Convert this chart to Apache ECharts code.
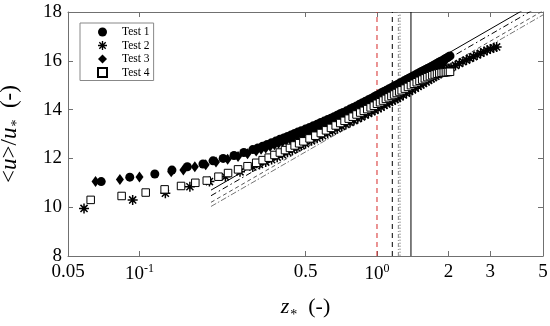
<!DOCTYPE html>
<html><head><meta charset="utf-8">
<script src="https://cdn.jsdelivr.net/npm/echarts@6/dist/echarts.min.js"></script>
<style>html,body{margin:0;padding:0;background:#fff}#c{width:550px;height:326px}</style>
</head><body><div id="c"></div>
<script>
const seriesNames = ['Test 1', 'Test 2', 'Test 3', 'Test 4'];

// Test 1 (filled circles)
const z1 = [0.069,0.091,0.116,0.137,0.159,0.185,0.204,0.225,0.25,0.275,
  0.30,0.315,0.33,0.345,0.36,0.375,0.39,0.405,0.42,0.435,0.45,0.465,0.48,
  0.50,0.52,0.54,0.56,0.58,0.60,0.62,0.64,0.66,0.68,0.70,0.72,
  0.745,0.77,0.795,0.82,0.845,0.87,0.895,0.92,0.945,0.97,0.995,1.02,1.045,1.07,1.095,1.12,1.145,1.17,1.195,1.22,1.245,1.27,
  1.30,1.33,1.36,1.39,1.42,1.45,1.48,1.51,1.54,1.57,1.60,1.63,1.66,1.69,1.72,1.75,1.78,1.81,1.84,1.87,1.90,1.93,
  1.955,1.98,2.005,2.03];
const u1 = [11.05,11.23,11.36,11.52,11.66,11.77,11.9,12.0,12.12,12.24,
  12.36,12.43,12.5,12.57,12.64,12.71,12.78,12.84,12.9,12.96,13.02,13.08,13.13,
  13.2,13.27,13.34,13.4,13.47,13.53,13.59,13.65,13.71,13.77,13.83,13.88,
  13.95,14.02,14.09,14.15,14.22,14.28,14.34,14.4,14.46,14.52,14.58,14.63,14.69,14.74,14.79,14.84,14.89,14.94,14.99,15.03,15.08,15.12,
  15.18,15.23,15.28,15.33,15.38,15.42,15.47,15.51,15.56,15.6,15.64,15.68,15.72,15.76,15.8,15.84,15.88,15.92,15.96,15.99,16.03,16.07,
  16.1,16.13,16.17,16.2];

// Test 2 (asterisks)
const z2 = [0.0584,0.0936,0.1285,0.163,0.197,0.23,0.265,
  0.30,0.32,0.34,0.36,0.38,0.40,0.42,0.44,0.46,0.48,
  0.50,0.53,0.56,0.59,0.62,0.65,0.68,0.71,0.74,
  0.77,0.80,0.83,0.86,0.89,0.92,0.95,0.98,1.01,1.04,1.07,1.10,1.13,1.16,1.19,1.22,1.25,
  1.29,1.33,1.37,1.41,1.45,1.49,1.53,1.57,1.61,1.65,1.69,1.73,1.77,1.81,1.85,1.89,1.93,1.97,2.01,2.05,
  2.14,2.22,2.30,2.38,2.46,2.55,2.64,2.73,2.82,2.91,3.0,3.1,3.19];
const u2 = [9.95,10.3,10.57,10.84,11.05,11.25,11.45,
  11.65,11.75,11.85,11.95,12.05,12.15,12.25,12.34,12.43,12.52,
  12.6,12.72,12.83,12.93,13.03,13.13,13.22,13.31,13.39,
  13.47,13.55,13.63,13.7,13.78,13.84,13.91,13.97,14.04,14.1,14.17,14.23,14.29,14.35,14.41,14.47,14.52,
  14.6,14.67,14.74,14.81,14.88,14.95,15.01,15.07,15.13,15.2,15.26,15.32,15.37,15.43,15.49,15.54,15.59,15.63,15.68,15.72,
  15.81,15.89,15.96,16.03,16.1,16.17,16.24,16.31,16.37,16.43,16.48,16.53,16.57];

// Test 3 (filled diamonds)
const z3 = [0.0653,0.0827,0.1,0.136,0.153,0.171,0.19,0.21,0.235,0.26,0.285,
  0.31,0.325,0.34,0.355,0.37,0.385,0.40,0.415,0.43,0.445,0.46,0.475,0.49,
  0.51,0.53,0.55,0.57,0.59,0.61,0.63,0.65,0.67,0.69,0.71,0.73,
  0.755,0.78,0.805,0.83,0.855,0.88,0.905,0.93,0.955,0.98,1.005,1.03,1.055,1.08,1.105,1.13,1.155,1.18,1.205,1.23,1.255,
  1.285,1.315,1.345,1.375,1.405,1.435,1.465,1.495,1.525,1.555,1.585,1.615,1.645,1.675,1.705,1.735,1.765,1.795,1.825,1.855,1.885,
  1.91];
const u3 = [11.05,11.14,11.24,11.45,11.52,11.66,11.74,11.85,11.97,12.08,12.19,
  12.3,12.37,12.43,12.5,12.56,12.62,12.68,12.74,12.8,12.86,12.91,12.96,13.01,
  13.08,13.15,13.22,13.29,13.35,13.42,13.48,13.54,13.6,13.66,13.72,13.78,
  13.84,13.91,13.98,14.04,14.11,14.17,14.23,14.29,14.35,14.41,14.46,14.51,14.56,14.61,14.66,14.71,14.76,14.8,14.85,14.89,14.94,
  14.99,15.04,15.09,15.14,15.19,15.24,15.28,15.33,15.37,15.42,15.46,15.5,15.54,15.58,15.62,15.66,15.7,15.74,15.78,15.82,15.86,
  15.9];

// Test 4 (open squares)
const z4 = [0.0623,0.0841,0.1062,0.1276,0.1496,0.1718,0.192,0.215,0.236,0.26,0.285,
  0.31,0.33,0.35,0.37,0.39,0.41,0.43,0.45,0.47,0.49,
  0.52,0.55,0.58,0.61,0.64,0.67,0.70,0.73,0.76,
  0.79,0.82,0.85,0.88,0.91,0.94,0.97,1.00,1.03,1.06,1.09,1.12,1.15,1.18,1.21,1.24,1.27,
  1.31,1.35,1.39,1.43,1.47,1.51,1.55,1.59,1.63,1.67,1.71,1.75,1.79,1.83,1.87,1.91,1.95,1.99,2.03];
const u4 = [10.3,10.46,10.6,10.73,10.87,11.0,11.09,11.25,11.4,11.55,11.68,
  11.82,11.93,12.03,12.14,12.24,12.34,12.43,12.53,12.62,12.7,
  12.82,12.93,13.04,13.15,13.25,13.35,13.45,13.54,13.63,
  13.71,13.8,13.88,13.95,14.02,14.09,14.16,14.24,14.3,14.37,14.44,14.5,14.56,14.62,14.68,14.74,14.79,
  14.86,14.93,15.0,15.06,15.12,15.18,15.23,15.28,15.33,15.37,15.41,15.44,15.47,15.49,15.51,15.52,15.53,15.54,15.55];

// reference log-law lines (two end points each)
const lawZ = [0.2, 5];
const lawU1 = [10.7, 18.55];
const lawU2 = [10.47, 18.32];
const lawU3 = [10.2, 18.05];
const lawU4 = [10.03, 17.88];

// vertical reference lines
const vlineZ = [1.0, 1.16, 1.23, 1.25, 1.39];

// axes
const xMin = 0.05, xMax = 5;
const yMin = 8, yMax = 18, yStep = 2;
const xTickValues = [0.05, 0.1, 0.5, 1, 2, 3, 5];
const xTickLabels = ['0.05', '{b|10}{s|-1}', '0.5', '{b|10}{s|0}', '2', '3', '5'];

const SERIF = 'Liberation Serif';
const AX = '#707070';
const asterisk = 'path://M-10,-1.5L10,-1.5L10,1.5L-10,1.5Z M-1.5,-10L1.5,-10L1.5,10L-1.5,10Z M-6.01,-8.13L8.13,6.01L6.01,8.13L-8.13,-6.01Z M-8.13,6.01L6.01,-8.13L8.13,-6.01L-6.01,8.13Z';

function zip(a, b) { return a.map((v, i) => [v, b[i]]); }
function xLabel(v) {
  for (let i = 0; i < xTickValues.length; i++) {
    if (Math.abs(v - xTickValues[i]) / xTickValues[i] < 1e-6) return xTickLabels[i];
  }
  return '';
}

const lawStyles = [
  {color: '#000', width: 1, type: 'solid'},
  {color: '#000', width: 1, type: [6, 3, 1.5, 3]},
  {color: '#555', width: 1, type: [4, 3]},
  {color: '#777', width: 1, type: [6, 2, 1.5, 2]}
];
const lawData = [lawU1, lawU2, lawU3, lawU4];
const vStyles = [
  {color: '#d62728', width: 1, type: [5, 4]},
  {color: '#000', width: 1, type: [5, 4]},
  {color: '#888', width: 1, type: [4, 2, 1, 2]},
  {color: '#888', width: 1, type: [1.5, 1.5]},
  {color: '#000', width: 1, type: 'solid'}
];

const series = [];
lawData.forEach((u, i) => {
  series.push({type: 'line', data: zip(lawZ, u), showSymbol: false, symbol: 'none',
    lineStyle: lawStyles[i], silent: true, z: 1, clip: true});
});
vlineZ.forEach((z, i) => {
  series.push({type: 'line', data: [[z, yMin], [z, yMax]], showSymbol: false, symbol: 'none',
    lineStyle: vStyles[i], silent: true, z: 1});
});
series.push({name: seriesNames[0], type: 'scatter', data: zip(z1, u1), symbol: 'circle', symbolSize: 9,
  itemStyle: {color: '#000', opacity: 1}, z: 3});
series.push({name: seriesNames[1], type: 'scatter', data: zip(z2, u2), symbol: asterisk, symbolSize: 10,
  itemStyle: {color: '#000', opacity: 1}, z: 3});
series.push({name: seriesNames[2], type: 'scatter', data: zip(z3, u3), symbol: 'diamond', symbolSize: [8, 11],
  itemStyle: {color: '#000', opacity: 1}, z: 3});
series.push({name: seriesNames[3], type: 'scatter', data: zip(z4, u4), symbol: 'rect', symbolSize: 7.5,
  itemStyle: {color: '#fff', borderColor: '#000', borderWidth: 1, opacity: 1}, z: 3});

const baseX = {
  type: 'log', logBase: 10, min: xMin, max: xMax,
  splitLine: {show: false}, minorTick: {show: false}, minorSplitLine: {show: false},
  axisLine: {show: true, lineStyle: {color: AX, width: 1}},
  axisTick: {show: true, inside: true, length: 5, customValues: xTickValues, lineStyle: {color: AX}}
};
const baseY = {
  type: 'value', min: yMin, max: yMax, interval: yStep,
  splitLine: {show: false},
  axisLine: {show: true, lineStyle: {color: AX, width: 1}},
  axisTick: {show: true, inside: true, length: 5, lineStyle: {color: AX}}
};

const option = {
  animation: false,
  backgroundColor: '#fff',
  grid: {left: 68, right: 7, top: 12, bottom: 70, containLabel: false, outerBoundsMode: 'none'},
  legend: {
    data: seriesNames, orient: 'vertical', left: 80, top: 23,
    padding: [3, 4, 2, 17], itemWidth: 9, itemHeight: 9, itemGap: 1.5,
    symbolKeepAspect: true,
    backgroundColor: '#fff', borderColor: '#888', borderWidth: 1, borderRadius: 0,
    selectedMode: false,
    textStyle: {fontFamily: SERIF, fontSize: 11.5, color: '#000', lineHeight: 11.5, padding: [0, 0, 0, 10]}
  },
  xAxis: [
    Object.assign({}, baseX, {
      position: 'bottom',
      axisLabel: {show: true, customValues: xTickValues, formatter: xLabel, margin: 7,
        fontFamily: SERIF, fontSize: 19, color: '#000',
        rich: {
          b: {fontFamily: SERIF, fontSize: 19, color: '#000', verticalAlign: 'bottom'},
          s: {fontFamily: SERIF, fontSize: 12, color: '#000', verticalAlign: 'bottom', padding: [0, 0, 9, 0]}
        }},
      name: '{i|z}{sub|*}{n|  (-)}', nameLocation: 'middle', nameGap: 40,
      nameTextStyle: {fontFamily: SERIF, fontSize: 22, color: '#000',
        rich: {
          i: {fontFamily: SERIF, fontSize: 22, fontStyle: 'italic', color: '#000', verticalAlign: 'top'},
          sub: {fontFamily: SERIF, fontSize: 14, color: '#000', verticalAlign: 'top', padding: [12, 0, 0, 1]},
          n: {fontFamily: SERIF, fontSize: 22, color: '#000', verticalAlign: 'top'}
        }}
    }),
    Object.assign({}, baseX, {position: 'top', axisLabel: {show: false}})
  ],
  yAxis: [
    Object.assign({}, baseY, {
      position: 'left',
      axisLabel: {show: true, margin: 6, fontFamily: SERIF, fontSize: 19, color: '#000'},
      name: '{n|<}{i|u}{n|>/}{i|u}{sub|*}{n|  (-)}', nameLocation: 'middle', nameGap: 44,
      nameTextStyle: {fontFamily: SERIF, fontSize: 23, color: '#000',
        rich: {
          i: {fontFamily: SERIF, fontSize: 23, fontStyle: 'italic', color: '#000', verticalAlign: 'top'},
          sub: {fontFamily: SERIF, fontSize: 14, color: '#000', verticalAlign: 'top', padding: [12, 0, 0, 1]},
          n: {fontFamily: SERIF, fontSize: 23, color: '#000', verticalAlign: 'top'}
        }}
    }),
    Object.assign({}, baseY, {position: 'right', axisLabel: {show: false}})
  ],
  series: series
};

const chart = echarts.init(document.getElementById('c'), null, {renderer: 'canvas'});
chart.setOption(option);
</script>
</body></html>
